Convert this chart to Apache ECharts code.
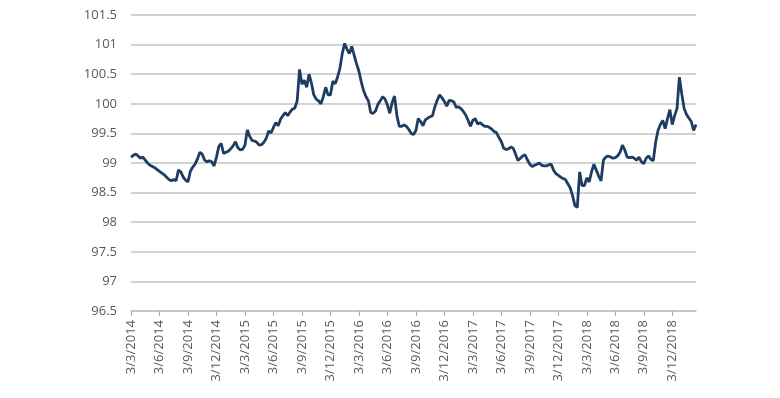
<!DOCTYPE html>
<html>
<head>
<meta charset="utf-8">
<script src="https://cdn.jsdelivr.net/npm/echarts@6/dist/echarts.min.js"></script>
<style>
  html, body { margin: 0; padding: 0; background: #fff; }
  #chart { width: 780px; height: 398px; }
</style>
</head>
<body>
<div id="chart"></div>
<script>
// x is counted in months from 3/3/2014, one reading every quarter month
const step = 0.25
const tickLabels = [
  '3/3/2014', '3/6/2014', '3/9/2014', '3/12/2014',
  '3/3/2015', '3/6/2015', '3/9/2015', '3/12/2015',
  '3/3/2016', '3/6/2016', '3/9/2016', '3/12/2016',
  '3/3/2017', '3/6/2017', '3/9/2017', '3/12/2017',
  '3/3/2018', '3/6/2018', '3/9/2018', '3/12/2018'
]
// index values
const values = [
  99.10, 99.13, 99.15, 99.12, 99.08, 99.10, 99.05, 99.00, 98.96, 98.94,
  98.92, 98.89, 98.86, 98.83, 98.80, 98.76, 98.72, 98.70, 98.72, 98.70,
  98.88, 98.85, 98.76, 98.71, 98.68, 98.86, 98.93, 98.98, 99.07, 99.18,
  99.15, 99.05, 99.02, 99.04, 99.02, 98.95, 99.10, 99.28, 99.33, 99.16,
  99.18, 99.20, 99.24, 99.29, 99.36, 99.26, 99.22, 99.23, 99.30, 99.56,
  99.45, 99.38, 99.37, 99.35, 99.30, 99.31, 99.35, 99.42, 99.54, 99.51,
  99.60, 99.68, 99.63, 99.74, 99.80, 99.85, 99.80, 99.86, 99.91, 99.93,
  100.05, 100.58, 100.33, 100.40, 100.28, 100.50, 100.35, 100.15, 100.08, 100.05,
  100.00, 100.12, 100.28, 100.15, 100.15, 100.38, 100.34, 100.45, 100.60, 100.85,
  101.02, 100.92, 100.85, 100.97, 100.82, 100.68, 100.55, 100.37, 100.22, 100.12,
  100.05, 99.85, 99.84, 99.88, 99.99, 100.05, 100.12, 100.08, 99.98, 99.84,
  100.02, 100.13, 99.80, 99.62, 99.62, 99.64, 99.62, 99.57, 99.50, 99.48,
  99.55, 99.75, 99.70, 99.63, 99.73, 99.76, 99.78, 99.80, 99.95, 100.06,
  100.15, 100.10, 100.04, 99.96, 100.06, 100.05, 100.03, 99.94, 99.95, 99.92,
  99.87, 99.81, 99.72, 99.62, 99.72, 99.75, 99.66, 99.68, 99.65, 99.62,
  99.62, 99.60, 99.57, 99.53, 99.51, 99.43, 99.36, 99.25, 99.23, 99.24,
  99.27, 99.25, 99.15, 99.04, 99.08, 99.12, 99.14, 99.05, 98.98, 98.94,
  98.96, 98.98, 99.00, 98.96, 98.95, 98.95, 98.97, 98.98, 98.88, 98.82,
  98.79, 98.76, 98.74, 98.72, 98.65, 98.58, 98.45, 98.28, 98.25, 98.85,
  98.62, 98.62, 98.75, 98.68, 98.85, 98.98, 98.88, 98.78, 98.70, 99.05,
  99.10, 99.12, 99.10, 99.08, 99.09, 99.12, 99.18, 99.30, 99.22, 99.10,
  99.09, 99.10, 99.08, 99.05, 99.10, 99.02, 98.99, 99.08, 99.12, 99.06,
  99.04, 99.35, 99.55, 99.65, 99.72, 99.58, 99.75, 99.90, 99.65, 99.80,
  99.92, 100.45, 100.17, 99.92, 99.82, 99.76, 99.70, 99.55, 99.65
]

const seriesData = values.map((v, i) => [i * step, v])
const tickValues = tickLabels.map((_, i) => i * 3)

const chart = echarts.init(document.getElementById('chart'), null, { renderer: 'canvas' })
chart.setOption({
  animation: false,
  backgroundColor: '#ffffff',
  textStyle: { fontFamily: '"Open Sans", sans-serif' },
  grid: { left: 131, right: 84, top: 15, bottom: 87 },
  xAxis: {
    type: 'value',
    min: 0,
    max: (values.length - 1) * step,
    splitLine: { show: false },
    axisLine: { show: true, lineStyle: { color: '#c4c4c4', width: 1.5 } },
    axisTick: {
      show: true, length: 5, inside: false, customValues: tickValues,
      lineStyle: { color: '#a6a6a6', width: 1 }
    },
    axisLabel: {
      rotate: 90,
      margin: 9,
      color: '#595959',
      fontSize: 13,
      customValues: tickValues,
      formatter: v => tickLabels[Math.round(v / 3)] || ''
    }
  },
  yAxis: {
    type: 'value',
    min: 96.5,
    max: 101.5,
    interval: 0.5,
    axisLine: { show: false },
    axisTick: { show: false },
    splitLine: { show: true, lineStyle: { color: '#c4c4c4', width: 1.5 } },
    axisLabel: {
      margin: 14,
      color: '#595959',
      fontSize: 13,
      formatter: v => String(Math.round(v * 10) / 10)
    }
  },
  series: [{
    type: 'line',
    data: seriesData,
    showSymbol: false,
    smooth: false,
    lineStyle: { color: '#1e3d63', width: 2.8 },
    itemStyle: { color: '#1e3d63' }
  }]
})
</script>
</body>
</html>
